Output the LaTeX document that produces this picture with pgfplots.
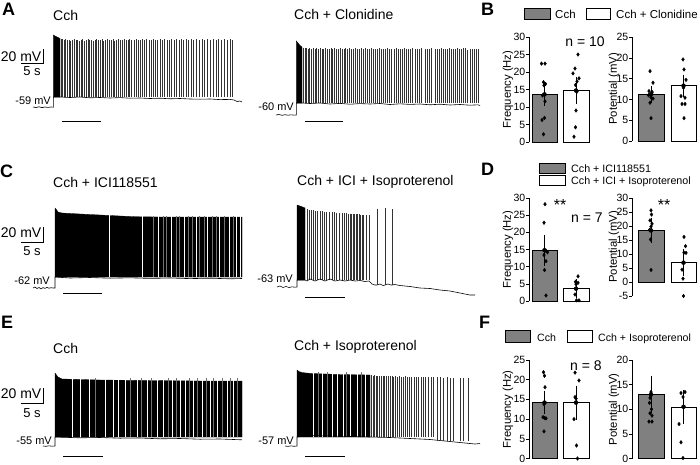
\documentclass[border=0pt]{standalone}
\usepackage{pgfplots}
\pgfplotsset{compat=1.18}
\usepackage{fontspec}
\setmainfont{Liberation Sans}
\definecolor{barg}{RGB}{128,128,128}
\newcommand{\fs}[1]{\fontsize{#1}{#1}\selectfont}
\pgfplotsset{
 trax/.style={scale only axis, hide axis, clip=false, anchor=south west},
 barax/.style={scale only axis, anchor=south west, clip=false, axis y line*=left, axis x line=none, xmin=0,
   tick align=outside, major tick length=3pt, every tick/.style={black, line width=0.6pt},
   y axis line style={line width=0.6pt}, yticklabel style={font=\fs{10.5}, inner sep=0.5pt},
   /pgf/number format/assume math mode=true, ylabel style={font=\fs{11.3}, anchor=center}},
 spk/.style={ycomb, black!80, line width=0.65pt},
 wl/.style={ycomb, white, line width=0.45pt},
 gl/.style={ycomb, black!55, line width=0.5pt},
 bl/.style={black, line width=0.6pt},
 fl/.style={fill=black, draw=black, line width=0.3pt},
 gbar/.style={ybar, bar width=25.5pt, bar shift=0pt, fill=barg, draw=black, line width=0.5pt},
 wbar/.style={ybar, bar width=25.5pt, bar shift=0pt, fill=white, draw=black, line width=0.5pt},
 errb/.style={only marks, mark=none, error bars/.cd, y dir=both, y explicit,
   error bar style={black, line width=0.8pt}, error mark options={black, line width=0.8pt, mark size=4pt}},
 dots/.style={only marks, mark=diamond*, mark size=1.8pt, mark options={fill=black, draw=black}},
}
\begin{document}
\begin{tikzpicture}
\path[use as bounding box] (0pt,0pt) rectangle (700pt,-464pt);

% ---------------- panel letters and titles
\foreach \l/\x/\y in {A/2/15, B/481/15, C/0/177, D/481/175, E/1/328, F/479/328}
  \node[anchor=base west, font=\fs{18}\bfseries, inner sep=0] at (\x pt,-\y pt) {\l};
\node[anchor=base west, font=\fs{14}, inner sep=0] at (53pt,-20pt) {Cch};
\node[anchor=base west, font=\fs{14}, inner sep=0] at (294pt,-19pt) {Cch + Clonidine};
\node[anchor=base west, font=\fs{14}, inner sep=0] at (53pt,-187pt) {Cch + ICI118551};
\node[anchor=base west, font=\fs{14}, inner sep=0] at (297pt,-185pt) {Cch + ICI + Isoproterenol};
\node[anchor=base west, font=\fs{14}, inner sep=0] at (53pt,-353pt) {Cch};
\node[anchor=base west, font=\fs{14}, inner sep=0] at (294pt,-350pt) {Cch + Isoproterenol};

% ---------------- scale bars
\foreach \yb/\yt/\ys in {61/63.5/75, 237/242/255, 398/403/417}{
  \node[anchor=base east, font=\fs{14}, inner sep=0] at (41.5pt,-\yb pt) {20 mV};
  \draw[line width=0.8pt] (21pt,-\yt pt) -- (43pt,-\yt pt) -- (43pt,-\yt pt+15pt);
  \node[anchor=base, font=\fs{13}, inner sep=0] at (32pt,-\ys pt) {5 s};
}
% level labels
\node[anchor=base east, font=\fs{11}, inner sep=0] at (51pt,-104pt) {-59 mV};
\node[anchor=base east, font=\fs{11}, inner sep=0] at (294pt,-110pt) {-60 mV};
\node[anchor=base east, font=\fs{11}, inner sep=0] at (50pt,-284pt) {-62 mV};
\node[anchor=base east, font=\fs{11}, inner sep=0] at (293pt,-282pt) {-63 mV};
\node[anchor=base east, font=\fs{11}, inner sep=0] at (52pt,-444pt) {-55 mV};
\node[anchor=base east, font=\fs{11}, inner sep=0] at (294pt,-444pt) {-57 mV};
% stimulus bars
\draw[line width=0.9pt] (62pt,-121pt) -- (101pt,-121pt);
\draw[line width=0.9pt] (305pt,-121pt) -- (343pt,-121pt);
\draw[line width=0.9pt] (63pt,-293pt) -- (102pt,-293pt);
\draw[line width=0.9pt] (305pt,-297pt) -- (345pt,-297pt);
\draw[line width=0.9pt] (63pt,-456pt) -- (103pt,-456pt);
\draw[line width=0.9pt] (305pt,-456pt) -- (345pt,-456pt);

% ================= A1 trace (0 = y 97)
\begin{axis}[trax, at={(33pt,-109pt)}, width=209pt, height=76pt, xmin=33, xmax=242, ymin=-12, ymax=64]
\addplot[fl] coordinates {(53.3,62)(55,61)(57,60)(60,58.5)} \closedcycle;
\addplot[spk] coordinates {(61,58)(62.6,57.5)(64.2,57)(65.8,57.5)(67.5,56.5)(69.2,57)(70.8,56)(72.4,57)(74.3,57.5)(76,56.5)(77.6,57)(79.3,55.5)(81.2,57)(82.8,57.5)(84.5,56)(86.3,57)(88,57.5)(89.6,56.5)(91.5,57)(93.2,55.5)(95,57)(96.6,57.5)(98.5,56.5)(100.3,57)(102,57.5)(103.8,56)(105.6,57)(107.5,57.5)(109.2,56.5)(111,57)(113,57.5)(114.8,56)(116.5,57)(118.5,57.5)(120.3,56.5)(122.2,57)(124,57.5)(126,56.5)(128,57)(129.8,57.5)(131.8,56.5)(134,57)(136,57.5)(138,57)(140.2,56.5)(142.4,57.5)(144.5,57)(146.7,57.5)(149,56.5)(151,57)(153.2,57.5)(155.6,57)(157.8,56.5)(160,57.5)(162.4,57)(164.6,57.5)(167,57)(169.4,56.5)(171.6,57.5)(174,57)(176.5,57.5)(179,57)(181.3,57.5)(183.8,57)(186.2,57.5)(188.8,57)(191.3,57.5)(193.8,57)(196.5,57.5)(199.3,57)(202,57.5)(204.8,57)(207.6,57.5)(210.4,57)(213.2,57.5)(216,57)(218.8,57.5)(221.6,57)(224.4,57.5)(227.2,57)(230,57.5)(232.8,57)};
\addplot[bl] coordinates {(33,-10)(36,-10.5)(39,-9.8)(42,-10.6)(45,-10)(48,-10.4)(51,-10)(53.3,-10.2)(53.3,0)(60,0)(70,-0.5)(80,0)(90,-0.8)(100,-0.5)(110,-1)(120,-0.6)(130,-1.2)(140,-1)(150,-1.5)(160,-1.2)(170,-1.8)(180,-1.5)(190,-2)(200,-2.2)(210,-2)(220,-2.6)(230,-2.4)(234,-3)(237,-4.5)(240,-4)(242,-5)};
\end{axis}

% ================= A2 trace (0 = y 103)
\begin{axis}[trax, at={(276pt,-117pt)}, width=204pt, height=78pt, xmin=276, xmax=480, ymin=-14, ymax=64]
\addplot[fl] coordinates {(296.3,62)(298,60)(300,57.5)(302,56)} \closedcycle;
\addplot[spk] coordinates {(303.5,55)(305,54.5)(306.6,55)(308.2,54)(309.8,54.5)(311.5,54)(313.2,54.5)(315,53.5)(316.7,54.5)(318.4,54)(320.2,54.5)(322,53.5)(323.8,54)(325.6,54.5)(327.4,54)(329.2,53.5)(331,54.5)(332.8,54)(334.7,54.5)(336.5,53.5)(338.3,54)(340.2,54.5)(342,54)(344,53.5)(345.8,54.5)(347.7,54)(349.6,54.5)(351.5,53.5)(353.4,54)(355.3,54.5)(357.2,54)(359.2,53.5)(361.1,54.5)(363,54)(365,54.5)(367,53.5)(369,54)(371,54.5)(373,54)(375,53.5)(377,54)(379,54.5)(381,54)(383,53.5)(385,54)(387,54.5)(389,54)(391,53.5)(394.5,54)(396.3,54.5)(398.2,54)(400.2,53.5)(402.2,54)(404.2,54.5)(406.2,54)(408.2,53.5)(410.2,54)(412.5,54.5)(415,54)(417,53.5)(419,54)(421,54.5)(425,54)(427,53.5)(429,54)(431,54.5)(435,54)(437,53.5)(439,54)(441,54.5)(443,54)(445,53.5)(447,54)(449,54.5)(451,54)(453,53.5)(455,54)(457,54.5)(459,54)(461,53.5)(463,55)(465,54.5)(467,53)(470.5,54)(472.5,53.5)(474.5,54)(476.5,53.5)(478,54)};
\addplot[bl] coordinates {(276,-12)(279,-11.5)(282,-12.3)(285,-11.7)(288,-12.2)(291,-11.8)(294,-12.1)(296.3,-12)(296.3,0)(302,0)(310,-0.5)(320,0)(330,-1)(340,-0.4)(350,-1.2)(360,-0.6)(370,-1)(380,-0.5)(390,-1.5)(400,-0.8)(410,-1.4)(420,-1)(430,-1.8)(440,-1.2)(450,-2)(460,-1.5)(470,-2.2)(478,-1.8)(480,-2.5)};
\end{axis}

% ================= C1 trace (0 = y 277)
\begin{axis}[trax, at={(33pt,-290pt)}, width=209pt, height=83pt, xmin=33, xmax=242, ymin=-13, ymax=70]
\addplot[fl] coordinates {(55,69)(56,68)(58,65)(62,64)(80,63)(100,62)(120,61)(135,60.3)(160,60)(200,60)(242,60)} \closedcycle;
\addplot[wl] coordinates {(109,64)(142,61)(158.5,61)(171,61)(184,61)(196,61)(207,61)(219.5,61)(229,61)(236.5,61)(240,61)};
\addplot[gl] coordinates {(153,61)(163,61)(166,61)(176,61)(179,61)(188,61)(192.5,61)(199.5,61)(204,61)(212,61)(216,61)(224,61)(233,61)};
\addplot[bl] coordinates {(33,-11)(35,-10)(37,-11.5)(39,-10.5)(41,-11.8)(43,-10.6)(45,-11.4)(47,-10.4)(49,-11.2)(51,-10.7)(53,-11)(55,-11)(55,0)(70,-1)(90,-0.5)(110,-1.2)(130,-0.8)(150,-1.4)(170,-1)(190,-1.6)(210,-1.2)(230,-1.8)(242,-1.5)};
\end{axis}

% ================= C2 trace (0 = y 280)
\begin{axis}[trax, at={(277pt,-297pt)}, width=199pt, height=93pt, xmin=277, xmax=476, ymin=-17, ymax=76]
\addplot[fl] coordinates {(297,75)(300,74)(305,72)} \closedcycle;
\addplot[spk] coordinates {(307,71)(309,70.5)(311.5,70)(313.5,70)(315.5,69.5)(317.5,69.5)(320,69)(322.5,69)(324.5,68.5)(326.5,68.5)(329.5,68)(332.5,68)(334.5,68)(336.5,67.5)(339.5,67.5)(342.5,67)(344.5,67)(346.5,67)(348.5,66.5)(350,66.5)(351.5,66.5)(353,66)(354.5,66)(356,66)(357.5,66)(359,66)(360.5,65.5)(362,65.5)(363.5,65.5)(366,65.5)(369,65)};
\addplot[bl] coordinates {(277,-7)(280,-6)(283,-7.5)(286,-6.5)(289,-7.5)(292,-6.8)(295,-7.2)(297,-7)(297,0)(305,0)(307,-1)(310,1)(315,-1)(320,1)(325,-1)(330,1)(335,-1)(340,0)(345,-1)(350,0)(355,-1)(360,-0.5)(365,-1.5)(369,-1)(372,-4)(375,-5)(377,-5)(380,-4)(383,-5.5)(385,-5)(388,-4)(391,-5)(392,-5)(395,-4.5)(400,-5.5)(410,-6.5)(420,-8)(430,-8.5)(440,-10)(450,-11)(460,-13)(470,-15)(475,-15)};
\end{axis}
% C2 late spikes (0 = y 285)
\begin{axis}[trax, at={(277pt,-297pt)}, width=199pt, height=93pt, xmin=277, xmax=476, ymin=-12, ymax=81]
\addplot[spk] coordinates {(377,76)(385,77)(392,76)};
\end{axis}

% ================= E1 trace (0 = y 437)
\begin{axis}[trax, at={(43pt,-447pt)}, width=199pt, height=75pt, xmin=43, xmax=242, ymin=-10, ymax=65]
\addplot[fl] coordinates {(55,64)(56.5,62)(58,60)(62,58)(100,57)(150,56.5)(200,56)(242,56)} \closedcycle;
\addplot[wl] coordinates {(72,59)(80,59)(89,59)(105,59)(113,59)(118,59)(125,59)(137,59)(147,59)(157,59)(163,59)(172,59)(180,59)(185,59)(193,59)(202,59)(210,59)(217,59)(227,59)(233,59)};
\addplot[gl] coordinates {(95,59)(130,59)(141,59)(151,59)(168,59)(176,59)(189,59)(197,59)(206,59)(213,59)(222,59)(230,59)(237,59)};
\addplot[bl] coordinates {(43,-9)(46,-9.3)(49,-8.8)(52,-9.2)(55,-9)(55,0)(80,-0.8)(100,-0.5)(120,-1.2)(140,-1)(160,-1.8)(180,-1.5)(200,-2.2)(220,-2)(242,-2.8)};
\end{axis}

% ================= E2 trace (0 = y 437)
\begin{axis}[trax, at={(285pt,-448pt)}, width=195pt, height=78pt, xmin=285, xmax=480, ymin=-11, ymax=67]
\addplot[fl] coordinates {(297,67)(299,65.5)(302,64.5)(306,64)(312,63.5)(340,62.5)(370,62)} \closedcycle;
\addplot[wl] coordinates {(313,65)(322,65)(332,65)(337,65)(343,65)(350,65)(357,65)(365,65)};
\addplot[gl] coordinates {(318,65)(327,65)(346,65)(361,65)};
\addplot[spk] coordinates {(371.5,62)(373,61.5)(374.6,62)(376.2,61.5)(377.8,61.5)(379.5,61)(381.2,61.5)(383,61)(384.7,61.5)(386.5,61)(388.3,61)(390,61.5)(392,61)(393.8,60.5)(395.7,61)(397.6,60.5)(399.5,61)(401.5,60.5)(403.5,60.5)(405.5,61)(407.6,60.5)(409.7,60)(411.8,60.5)(414,60)(416.3,60.5)(418.6,60)(421,60.5)(423.4,60)(425.8,60)(428.3,60.5)(431,60)(433.6,60)};
\addplot[bl] coordinates {(285,-9)(288,-9.4)(291,-8.8)(294,-9.3)(297,-9)(297,0)(310,1.5)(330,1)(350,0.5)(370,0)(390,-0.5)(410,-1.5)(430,-2.5)(440,-3.5)(450,-4.5)(460,-5.5)(470,-6.5)(475,-7)(480,-6.5)};
\end{axis}
% E2 late spikes (0 = y 441)
\begin{axis}[trax, at={(285pt,-448pt)}, width=195pt, height=78pt, xmin=285, xmax=480, ymin=-7, ymax=71]
\addplot[spk] coordinates {(437,64)(440,64)(443.2,63.5)(447,64)(450,63.5)(453,63.5)(460,63.5)(463.3,63)(468,63)};
\end{axis}

% ================= B legend
\filldraw[fill=barg, draw=black, line width=0.5pt] (524pt,-8pt) rectangle (550pt,-19pt);
\node[anchor=base west, font=\fs{11.5}, inner sep=0] at (555pt,-18pt) {Cch};
\filldraw[fill=white, draw=black, line width=0.5pt] (586pt,-8pt) rectangle (610pt,-19pt);
\node[anchor=base west, font=\fs{11.5}, inner sep=0] at (616pt,-18pt) {Cch + Clonidine};
% D legend
\filldraw[fill=barg, draw=black, line width=0.5pt] (539pt,-163pt) rectangle (565pt,-173pt);
\node[anchor=base west, font=\fs{10.7}, inner sep=0] at (571pt,-172pt) {Cch + ICI118551};
\filldraw[fill=white, draw=black, line width=0.5pt] (539pt,-175pt) rectangle (565pt,-185pt);
\node[anchor=base west, font=\fs{10.7}, inner sep=0] at (571pt,-184pt) {Cch + ICI + Isoproterenol};
% F legend
\filldraw[fill=barg, draw=black, line width=0.5pt] (505pt,-330pt) rectangle (530pt,-342pt);
\node[anchor=base west, font=\fs{10.6}, inner sep=0] at (537pt,-341pt) {Cch};
\filldraw[fill=white, draw=black, line width=0.5pt] (567pt,-330pt) rectangle (592pt,-342pt);
\node[anchor=base west, font=\fs{10.6}, inner sep=0] at (598pt,-341pt) {Cch + Isoproterenol};

\node[anchor=base, font=\fs{14}, inner sep=0] at (585pt,-46pt) {n = 10};
\node[anchor=base, font=\fs{14}, inner sep=0] at (587pt,-222pt) {n = 7};
\node[anchor=base, font=\fs{14}, inner sep=0] at (586pt,-370pt) {n = 8};
\node[anchor=base, font=\fs{16}, inner sep=0] at (560pt,-210pt) {**};
\node[anchor=base, font=\fs{16}, inner sep=0] at (664pt,-210pt) {**};

% ================= B1
\begin{axis}[barax, at={(529pt,-142pt)}, width=63pt, height=105pt, xmax=63, ymin=0, ymax=30, ytick={0,5,...,30},
  ylabel={Frequency (Hz)}, ylabel style={at={(axis description cs:-0.333,0.5)}}]
\addplot[gbar] coordinates {(15.5,13.6)};
\addplot[wbar] coordinates {(47,14.7)};
\addplot[errb] coordinates {(15.5,13.6) +- (0,2.2) (47,14.7) +- (0,2.7)};
\addplot[dots] coordinates {(12.5,22.4)(16,22.4)(14.5,17.1)(16.5,16.6)(15,16.2)(13.5,13.3)(16,11.6)(15.5,6.9)(13,6.3)(14.5,2.2)
  (49,25)(46,21)(44,19.6)(50,18.2)(48,17.3)(46.5,16.3)(48,14.4)(47,9)(46.5,4.2)(45,1.5)};
\end{axis}
% ================= B2
\begin{axis}[barax, at={(632pt,-141pt)}, width=66pt, height=104pt, xmax=66, ymin=0, ymax=25, ytick={0,5,...,25},
  ylabel={Potential (mV)}, ylabel style={at={(axis description cs:-0.273,0.5)}}]
\addplot[gbar] coordinates {(19,11.2)};
\addplot[wbar] coordinates {(51.5,13.3)};
\addplot[errb] coordinates {(19,11.2) +- (0,1.1) (51.5,13.3) +- (0,1.7)};
\addplot[dots] coordinates {(18,16.8)(21,14)(17,12)(20,11.6)(16.5,11)(19,10.5)(21,10.2)(18,9.2)(20,11.8)(19,5.5)
  (51,19.6)(52,17.2)(54,14.7)(51.5,12.8)(49,10.8)(53,10.4)(50,8.9)(53,8.9)(52,5.5)};
\end{axis}
% ================= D1
\begin{axis}[barax, at={(529pt,-301pt)}, width=63pt, height=103pt, xmax=63, ymin=0, ymax=30, ytick={0,5,...,30},
  ylabel={Frequency (Hz)}, ylabel style={at={(axis description cs:-0.333,0.5)}}]
\addplot[gbar] coordinates {(15.5,14.8)};
\addplot[wbar] coordinates {(47,3.6)};
\addplot[errb] coordinates {(15.5,14.8) +- (0,3.3) (47,3.6) +- (0,1.5)};
\addplot[dots] coordinates {(16,28.2)(15,22.8)(17,14.6)(18.5,14.2)(15,13.4)(17,11.6)(15.5,9)(17,1.6)
  (49,7.2)(46.5,5.6)(49,5.3)(47,4.9)(46,1.9)(47.5,0.2)(50,0.2)};
\end{axis}
% ================= D2
\begin{axis}[barax, at={(632pt,-296pt)}, width=66pt, height=98pt, xmax=66, ymin=-5, ymax=30, ytick={-5,0,...,30},
  ylabel={Potential (mV)}, ylabel style={at={(axis description cs:-0.273,0.5)}}]
\addplot[gbar] coordinates {(19,18.4)};
\addplot[wbar] coordinates {(51.5,6.9)};
\addplot[errb] coordinates {(19,18.4) +- (0,3.1) (51.5,6.9) +- (0,3.3)};
\addplot[dots] coordinates {(19,25.6)(19.5,24.1)(18,22)(20,20.8)(19,19.8)(17.5,18.6)(18.5,15.2)(19,4.3)
  (52,16.1)(53.5,12.8)(52,10.5)(54,10.4)(50,4.4)(51,1.2)(51.5,-5)};
\end{axis}
% ================= F1
\begin{axis}[barax, at={(529pt,-458.5pt)}, width=63pt, height=98.5pt, xmax=63, ymin=0, ymax=25, ytick={0,5,...,25},
  ylabel={Frequency (Hz)}, ylabel style={at={(axis description cs:-0.333,0.5)}}]
\addplot[gbar] coordinates {(15.5,14.2)};
\addplot[wbar] coordinates {(47,14.2)};
\addplot[errb] coordinates {(15.5,14.2) +- (0,2)(47,14.2) +- (0,3.3)};
\addplot[dots] coordinates {(14.5,21.9)(15.5,21)(16,18.1)(15,13.8)(14,10.5)(15.5,10.3)(17,10.2)(15,6.9)
  (46,21.8)(50,19.8)(46,15.6)(47,15.2)(45,10)(47.5,3.3)(48.5,0)};
\end{axis}
% ================= F2
\begin{axis}[barax, at={(632pt,-458.5pt)}, width=66pt, height=98.5pt, xmax=66, ymin=0, ymax=20, ytick={0,5,...,20},
  ylabel={Potential (mV)}, ylabel style={at={(axis description cs:-0.273,0.5)}}]
\addplot[gbar] coordinates {(19,13)};
\addplot[wbar] coordinates {(51.5,10.5)};
\addplot[errb] coordinates {(19,13) +- (0,3)(51.5,10.5) +- (0,2.6)};
\addplot[dots] coordinates {(19,13.5)(18,12.3)(17.5,11.3)(19.5,10)(18,9.2)(20,8.7)(17,7.5)(20,7.5)
  (53,13.5)(49,13.3)(51,12.5)(51.5,10.5)(47,7)(49,3.3)(51,0.1)};
\end{axis}
\end{tikzpicture}
\end{document}
